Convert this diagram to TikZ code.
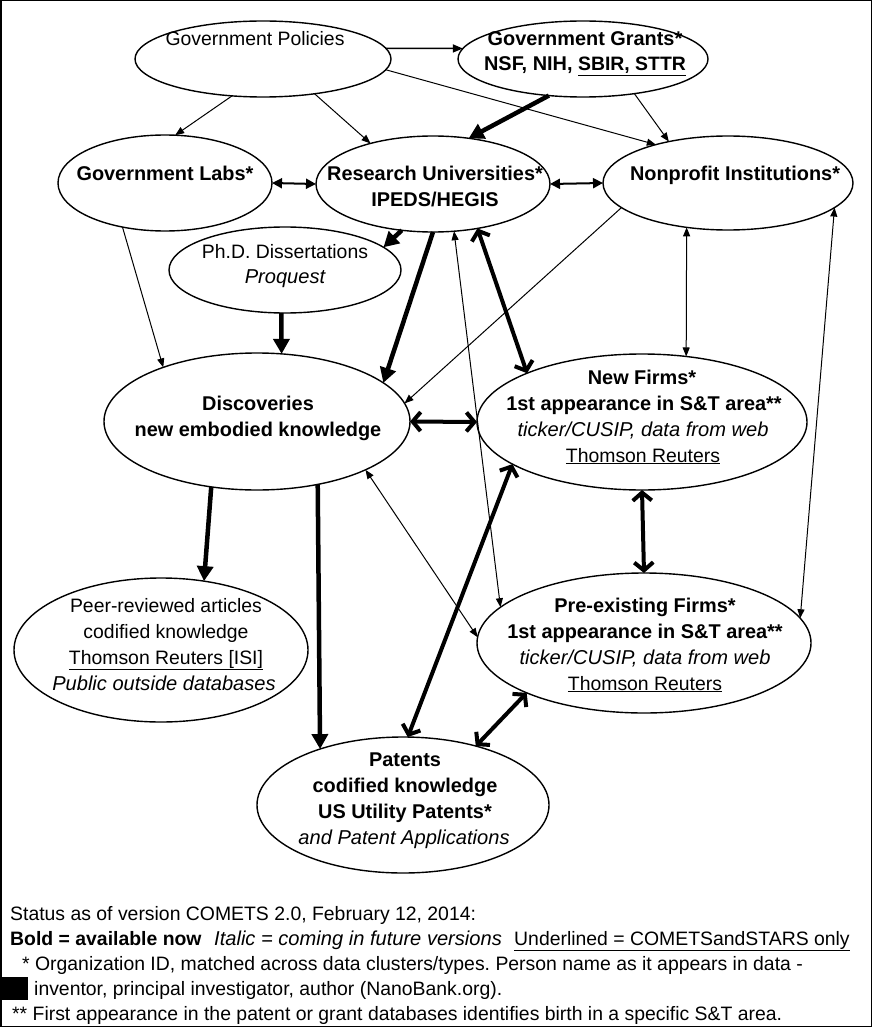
\documentclass[tikz,border=0pt]{standalone}
\usepackage{fontspec}
\setmainfont{Liberation Sans}
\usetikzlibrary{shapes.geometric,arrows.meta}
\newcommand\fsz{\fontsize{19.4}{26}\selectfont}
\newcommand\bx{\bfseries\fontsize{19.9}{26}\selectfont}
\newcommand\ix{\itshape\fontsize{20.1}{26}\selectfont}
\frenchspacing
\begin{document}
\begin{tikzpicture}[x=1pt,y=-1pt,
  ell/.style={draw, ellipse, line width=1.4pt, inner sep=0pt, outer sep=0pt},
  tx/.style={inner sep=0pt, text height=14pt, text depth=0pt, font=\fsz},
  ft/.style={inner sep=0pt, anchor=base west, font=\fsz},
  thinarr/.style={line width=1pt, -{Triangle[length=9pt,width=7pt]}},
  thinbi/.style={line width=1pt, {Triangle[length=9pt,width=7pt]}-{Triangle[length=9pt,width=7pt]}},
  medbi/.style={line width=2pt, {Triangle[length=10pt,width=10pt]}-{Triangle[length=10pt,width=10pt]}},
  thickarr/.style={line width=4.5pt, -{Triangle[length=15pt,width=16pt]}},
  thickbi/.style={line width=4pt, {Straight Barb[length=8pt,width=19pt]}-{Straight Barb[length=8pt,width=19pt]}},
]
\useasboundingbox (0,0) rectangle (872,1027);
\draw[line width=1.5pt] (0.75,0.75) rectangle (871.25,1026.25);

% ellipses
\node[ell, minimum width=256pt, minimum height=76pt] (gp)  at (263,59)  {};
\node[ell, minimum width=250pt, minimum height=76pt] (gg)  at (583,59)  {};
\node[ell, minimum width=214pt, minimum height=96pt] (gl)  at (165,183) {};
\node[ell, minimum width=234pt, minimum height=96pt] (ru)  at (433,184) {};
\node[ell, minimum width=250pt, minimum height=94pt] (np)  at (728,183) {};
\node[ell, minimum width=232pt, minimum height=86pt] (phd) at (285,270) {};
\node[ell, minimum width=306pt, minimum height=137pt] (di) at (257,421.5) {};
\node[ell, minimum width=330pt, minimum height=136pt] (nf) at (642,422) {};
\node[ell, minimum width=334pt, minimum height=140pt] (pe) at (644,643) {};
\node[ell, minimum width=294pt, minimum height=144pt] (pr) at (161,650) {};
\node[ell, minimum width=292pt, minimum height=136pt] (pa) at (403,805) {};

% texts
\node[tx] (gpt)  at (255,39)  {Government Policies};
\node[tx] (ggt1) at (585,39)  {\bx Government Grants*};
\node[tx] (ggt2) at (585,64)  {\bx NSF, NIH, \underline{\fsz SBIR, STTR}};
\node[tx] (glt)  at (165,173) {\bx Government Labs*};
\node[tx] (rut1) at (435,173) {\bx Research Universities*};
\node[tx] (rut2) at (435,199) {\bx IPEDS/HEGIS};
\node[tx] (npt)  at (735,173) {\bx Nonprofit Institutions*};
\node[tx] (phdt1) at (285,251) {Ph.D. Dissertations};
\node[tx] (phdt2) at (285,276) {\ix Proquest};
\node[tx] (dit1) at (258,403) {\bx Discoveries};
\node[tx] (dit2) at (258,429) {\bx new embodied knowledge};
\node[tx] (nft1) at (642,377) {\bx New Firms*};
\node[tx] (nft2) at (644,403) {\bx 1st appearance in S\&T area**};
\node[tx] (nft3) at (643,429) {\ix ticker/CUSIP, data from web};
\node[tx] (nft4) at (643,455) {\underline{Thomson Reuters}};
\node[tx] (prt1) at (166,605) {Peer-reviewed articles};
\node[tx] (prt2) at (166,631) {codified knowledge};
\node[tx] (prt3) at (166,657) {\underline{Thomson Reuters [ISI]}};
\node[tx] (prt4) at (164,683) {\ix Public outside databases};
\node[tx] (pet1) at (645,605) {\bx Pre-existing Firms*};
\node[tx] (pet2) at (645,631) {\bx 1st appearance in S\&T area**};
\node[tx] (pet3) at (645,657) {\ix ticker/CUSIP, data from web};
\node[tx] (pet4) at (645,683) {\underline{Thomson Reuters}};
\node[tx] (pat1) at (405,759) {\bx Patents};
\node[tx] (pat2) at (405,785) {\bx codified knowledge};
\node[tx] (pat3) at (405,811) {\bx US Utility Patents*};
\node[tx] (pat4) at (404,837) {\ix and Patent Applications};

% connectors
\draw[line width=1.5pt, -{Triangle[length=10pt,width=8pt]}] (gp.5) -- (gg.175);
\draw[thinarr] (gp.-130) -- (gl.78);
\draw[thinarr] (gp.-34.5) -- (ru.147);
\draw[thinarr] (gp.-5.7) -- (np.152);
\draw[thickarr] (gg.-133.5) -- (ru.52);
\draw[thinarr] (gg.-34) -- (np.145);
\draw[medbi] (gl.0) -- (ru.180);
\draw[medbi] (ru.0) -- (np.180);
\draw[thickarr] (ru.-124.6) -- (phd.13);
\draw[thickarr] (phd.-95) -- (di.70);
\draw[thickarr] (ru.-90) -- (di.17.6);
\draw[thinarr] (gl.-134) -- (di.150.6);
\draw[thinarr] (np.-167) -- (di.7);
\draw[thinbi] (np.-133) -- (nf.56);
\draw[thickbi] (ru.-45.6) -- (nf.157);
\draw[thickbi] (di.0) -- (nf.180);
\draw[thinbi] (ru.-66) -- (pe.166);
\draw[thinbi] (np.-13) -- (pe.9.3);
\draw[thinbi] (di.-24) -- (pe.178);
\draw[thickarr] (di.-125) -- (pr.58);
\draw[thickarr] (di.-46) -- (pa.146);
\draw[thickbi] (nf.-162) -- (pa.86);
\draw[thickbi] (nf.-90) -- (pe.90);
\draw[thickbi] (pe.-157) -- (pa.39);

% footer
\node[ft] (f1) at (10,920) {Status as of version COMETS 2.0, February 12, 2014:};
\node[ft] (f2a) at (10,945) {\bfseries Bold = available now};
\node[ft] (f2b) at (214,945) {\ix Italic = coming in future versions};
\node[ft] (f2c) at (514,945) {\underline{Underlined = COMETSandSTARS only}};
\node[ft] (f3) at (22,970) {* Organization ID, matched across data clusters/types. Person name as it appears in data -};
\fill (2,977) rectangle (28,1000);
\node[ft] (f4) at (34,995) {inventor, principal investigator, author (NanoBank.org).};
\node[ft] (f5) at (12,1020) {** First appearance in the patent or grant databases identifies birth in a specific S\&T area.};
\end{tikzpicture}
\end{document}
